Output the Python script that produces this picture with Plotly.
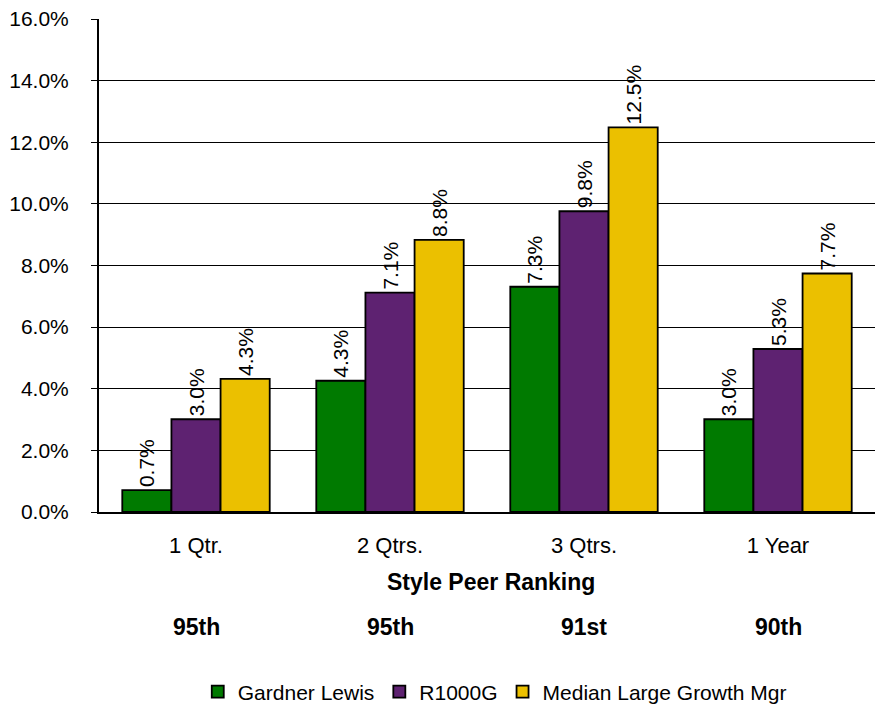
import plotly.graph_objects as go

categories = ["1 Qtr.", "2 Qtrs.", "3 Qtrs.", "1 Year"]
gardner_lewis = [0.71, 4.26, 7.31, 3.01]
r1000g = [3.01, 7.12, 9.76, 5.29]
median_large_growth = [4.32, 8.83, 12.48, 7.74]
peer_rankings = ["95th", "95th", "91st", "90th"]
series_names = ["Gardner Lewis", "R1000G", "Median Large Growth Mgr"]
colors = ["#007A00", "#5E2271", "#EBC000"]

FONT = "Liberation Sans, Arial, sans-serif"
FS = 21

fig = go.Figure()
for name, vals, col in zip(series_names, [gardner_lewis, r1000g, median_large_growth], colors):
    fig.add_trace(go.Bar(
        x=categories, y=vals, name=name,
        marker=dict(color=col, line=dict(color="black", width=1.8)),
        text=[f"{v:.1f}%" for v in vals],
        textposition="outside", textangle=-90, constraintext="none",
        textfont=dict(family=FONT, size=FS, color="black"),
        cliponaxis=False,
    ))

fig.add_annotation(text="<b>Style Peer Ranking</b>", xref="paper", yref="paper",
                   x=0.505, y=(512 - 582) / 493, showarrow=False,
                   font=dict(family=FONT, size=23, color="black"), yanchor="middle")
for c, r in zip(categories, peer_rankings):
    fig.add_annotation(text=f"<b>{r}</b>", xref="x", yref="paper",
                       x=c, y=(512 - 627) / 493, showarrow=False,
                       font=dict(family=FONT, size=23, color="black"), yanchor="middle")

fig.update_layout(
    width=875, height=705,
    margin=dict(l=99, r=0, t=19, b=193, autoexpand=False),
    paper_bgcolor="white", plot_bgcolor="white",
    barmode="group", bargap=0.24, bargroupgap=0,
    font=dict(family=FONT, size=FS, color="black"),
    showlegend=True,
    legend=dict(orientation="h", x=0.51, xanchor="center", y=(512 - 692) / 493,
                yanchor="middle", font=dict(family=FONT, size=21, color="black"),
                tracegroupgap=0),
    xaxis=dict(showline=True, linecolor="black", linewidth=2, ticks="",
               tickfont=dict(family=FONT, size=22), ticklabelstandoff=13),
    yaxis=dict(range=[0, 16], dtick=2, tickformat=".1f", ticksuffix="%",
               showgrid=True, gridcolor="black", gridwidth=1,
               showline=True, linecolor="black", linewidth=2,
               ticks="outside", ticklen=6, tickcolor="black",
               tickfont=dict(family=FONT, size=FS), ticklabelstandoff=18,
               zeroline=False),
)

fig.write_html("out.html", config={"displayModeBar": False},
               post_script="document.body.style.margin='0';document.body.style.overflow='hidden';")
